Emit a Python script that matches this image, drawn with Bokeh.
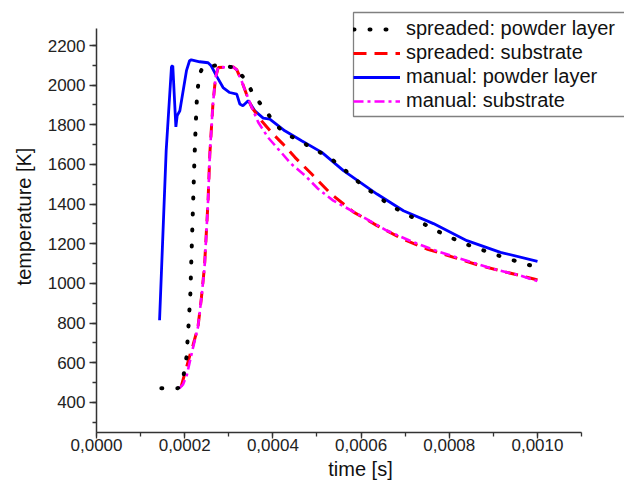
from bokeh.plotting import figure
from bokeh.models import (Range1d, SingleIntervalTicker, CustomJSTickFormatter,
                          Legend, LegendItem, BoxAnnotation)
from bokeh.embed import file_html
from bokeh.resources import INLINE

# spreaded: powder layer (black dotted)
t_spread_powder = [0.000147, 0.000185, 0.000197, 0.000204, 0.000209, 0.000213, 0.000215,
                   0.000219, 0.000222, 0.000225, 0.000228, 0.000233, 0.000241, 0.000275,
                   0.000314, 0.000340, 0.000355, 0.000378, 0.000400, 0.000423, 0.000458,
                   0.000489, 0.000524, 0.000552, 0.000579, 0.000609, 0.000670, 0.000704,
                   0.000736, 0.000768, 0.000802, 0.000836, 0.000872, 0.000907, 0.000942,
                   0.000979, 0.001000]
T_spread_powder = [472, 472, 530, 628, 800, 956, 1115,
                   1400, 1620, 1800, 1950, 2050, 2093, 2100,
                   2089, 2022, 1955, 1888, 1821, 1762, 1723,
                   1683, 1640, 1596, 1539, 1485, 1388, 1350,
                   1308, 1270, 1233, 1200, 1171, 1144, 1119,
                   1094, 1082]

# spreaded: substrate (red dashed)
t_spread_sub = [0.000192, 0.000200, 0.000212, 0.000219, 0.000230, 0.000238, 0.000245,
                0.000253, 0.000257, 0.000264, 0.000270, 0.000276, 0.000310, 0.000318,
                0.000329, 0.000340, 0.000352, 0.000374, 0.000400, 0.000423, 0.000450,
                0.000488, 0.000530, 0.000583, 0.000636, 0.000689, 0.000749, 0.000810,
                0.000870, 0.000931, 0.000992, 0.001000]
T_spread_sub = [480, 545, 640, 690, 779, 930, 1090,
                1418, 1654, 1905, 2039, 2089, 2092, 2078,
                2022, 1955, 1888, 1821, 1754, 1703, 1636,
                1552, 1455, 1360, 1292, 1230, 1174, 1132,
                1090, 1056, 1023, 1018]

# manual: powder layer (blue solid)
t_manual_powder = [0.000143, 0.000158, 0.000170, 0.000173, 0.000180, 0.000183, 0.000189,
                   0.000204, 0.000211, 0.000215, 0.000234, 0.000253, 0.000260, 0.000272,
                   0.000287, 0.000302, 0.000318, 0.000325, 0.000332, 0.000344, 0.000359,
                   0.000378, 0.000393, 0.000427, 0.000465, 0.000511, 0.000560, 0.000636,
                   0.000696, 0.000764, 0.000840, 0.000916, 0.001000]
T_manual_powder = [815, 1670, 2093, 2098, 1790, 1846, 1871,
                   2073, 2123, 2128, 2118, 2113, 2098, 2047,
                   1988, 1963, 1955, 1905, 1896, 1922, 1871,
                   1834, 1829, 1770, 1720, 1661, 1569, 1451,
                   1367, 1302, 1216, 1157, 1112]

# manual: substrate (magenta dash-dot)
t_manual_sub = [0.000188, 0.000196, 0.000205, 0.000219, 0.000230, 0.000238, 0.000245,
                0.000253, 0.000257, 0.000264, 0.000270, 0.000276, 0.000310, 0.000318,
                0.000329, 0.000340, 0.000352, 0.000367, 0.000389, 0.000412, 0.000442,
                0.000473, 0.000503, 0.000537, 0.000598, 0.000658, 0.000719, 0.000780,
                0.000840, 0.000900, 0.000961, 0.001000]
T_manual_sub = [472, 490, 540, 678, 779, 930, 1082,
                1418, 1654, 1905, 2039, 2089, 2092, 2078,
                2022, 1955, 1888, 1812, 1736, 1678, 1602,
                1544, 1476, 1418, 1343, 1267, 1208, 1157,
                1115, 1073, 1040, 1012]

labels = ["spreaded: powder layer", "spreaded: substrate",
          "manual: powder layer", "manual: substrate"]

x_axis_span = (0, 0.0011)
y_axis_span = (248.7, 2286)

FONT = "Liberation Sans"

# layout geometry (pixels)
W, H = 624, 487
LEFT, BOTTOM = 96, 55
FW, FH = W - LEFT, H - BOTTOM
XR = (0, 0.0011973)
YR = (248.7, 2426.9)


def px_to_x(px):
    return XR[0] + (px - LEFT) / FW * (XR[1] - XR[0])


def py_to_y(py):
    return YR[1] - py / FH * (YR[1] - YR[0])


p = figure(width=W, height=H, output_backend="svg", toolbar_location=None,
           x_range=Range1d(*XR), y_range=Range1d(*YR),
           min_border_left=LEFT, min_border_right=0, min_border_top=0,
           min_border_bottom=BOTTOM)
p.outline_line_color = None
p.xgrid.visible = False
p.ygrid.visible = False
p.background_fill_color = "white"

r_blue = p.line(t_manual_powder, T_manual_powder, line_color="#0000ff", line_width=2.8)
r_red = p.line(t_spread_sub, T_spread_sub, line_color="#ff0000", line_width=3,
               line_dash="13 8")
r_mag = p.line(t_manual_sub, T_manual_sub, line_color="#ff00ff", line_width=2.6,
               line_dash="10 4 3 4")
r_blk = p.line(t_spread_powder, T_spread_powder, line_color="black", line_width=4,
               line_dash="1 15", line_cap="round")

p.xaxis.ticker = SingleIntervalTicker(interval=0.0002, num_minor_ticks=2)
p.yaxis.ticker = SingleIntervalTicker(interval=200, num_minor_ticks=2)
p.xaxis.formatter = CustomJSTickFormatter(code="return tick.toFixed(4).replace('.', ',');")
p.xaxis.bounds = x_axis_span
p.yaxis.bounds = y_axis_span

for ax in (p.xaxis[0], p.yaxis[0]):
    ax.axis_line_color = "#333333"
    ax.axis_line_width = 1.5
    ax.major_tick_line_color = "#333333"
    ax.minor_tick_line_color = "#333333"
    ax.major_tick_line_width = 1.3
    ax.minor_tick_line_width = 1.3
    ax.major_tick_in = 0
    ax.major_tick_out = 7
    ax.minor_tick_in = 0
    ax.minor_tick_out = 4
    ax.major_label_text_font = FONT
    ax.major_label_text_font_size = "17px"
    ax.major_label_text_color = "#222222"
    ax.axis_label_text_font = FONT
    ax.axis_label_text_font_size = "20px"
    ax.axis_label_text_font_style = "normal"
    ax.axis_label_text_color = "#111111"

p.xaxis.axis_label = "time [s]"
p.yaxis.axis_label = "temperature [K]"
p.xaxis.major_tick_out = 6
p.xaxis.major_label_standoff = 0
p.xaxis.axis_label_standoff = 4
p.yaxis.major_label_standoff = 4
p.yaxis.axis_label_standoff = 10

# legend frame (gray box, partly running off the right edge as in the original)
box = BoxAnnotation(left=px_to_x(353), right=px_to_x(630),
                    top=py_to_y(12), bottom=py_to_y(116),
                    fill_color="white", fill_alpha=1.0,
                    line_color="#808080", line_alpha=1.0, line_width=1.3)
p.add_layout(box)

legend = Legend(items=[LegendItem(label=labels[0], renderers=[r_blk]),
                       LegendItem(label=labels[1], renderers=[r_red]),
                       LegendItem(label=labels[2], renderers=[r_blue]),
                       LegendItem(label=labels[3], renderers=[r_mag])],
                location=(257, 320))
legend.label_text_font = FONT
legend.label_text_font_size = "20px"
legend.label_text_color = "#111111"
legend.glyph_width = 47
legend.glyph_height = 20
legend.label_height = 20
legend.label_standoff = 6
legend.spacing = 1
legend.padding = 3
legend.margin = 0
legend.border_line_color = None
legend.background_fill_alpha = 0.0
p.add_layout(legend, "center")

open("out.html", "w").write(file_html(p, INLINE))
